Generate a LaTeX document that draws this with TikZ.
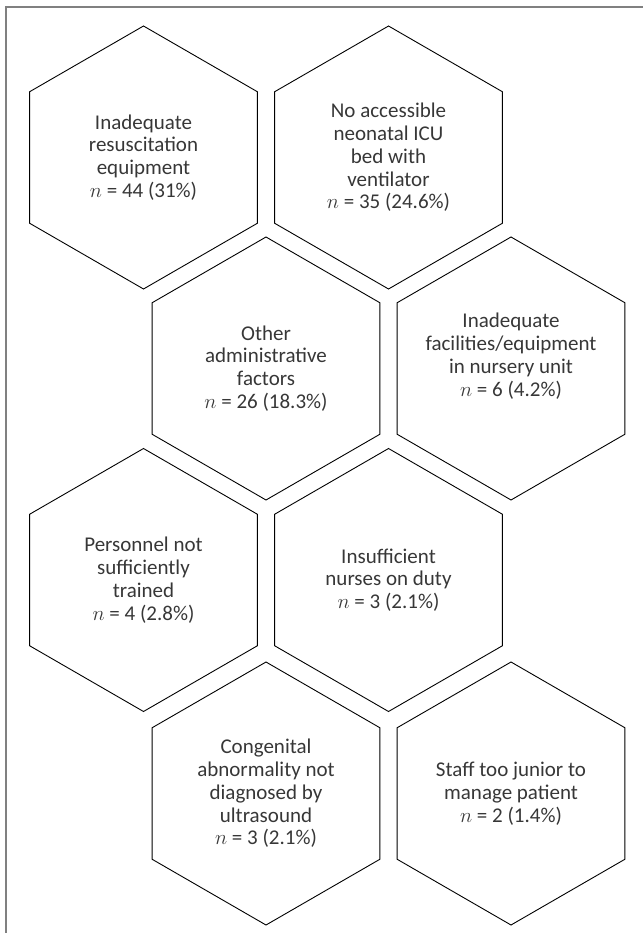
\documentclass[tikz,border=0pt]{standalone}
\usepackage{fontspec}
\setmainfont{Carlito}
\usepackage{tikz}
\usetikzlibrary{positioning,chains,shapes.geometric}
\definecolor{mytext}{RGB}{55,55,55}
\definecolor{myframe}{RGB}{128,128,128}

\begin{document}
\begin{tikzpicture}[x=1pt,y=-1pt,
  hexnode/.style={draw,regular polygon,regular polygon sides=6,
    shape border rotate=30,minimum size=263pt,inner sep=0pt,outer sep=0pt,
    line width=0.9pt,align=center,text=mytext,
    font=\fontsize{21}{22.8}\selectfont},
  node distance=17.2pt
]
\useasboundingbox (0,0) rectangle (643,933);

% the frame (left and top only)
\draw[myframe,line width=2pt] (5.5,933) -- (5.5,7.5) -- (643,7.5);

% first row
\begin{scope}[start chain=going right]
  \node[hexnode,on chain] (resus) at (143.5,157.5) {Inadequate\\resuscitation\\equipment\\$n$ = 44 (31\%)};
  \node[hexnode,on chain] (nicu) {No accessible\\neonatal ICU\\bed with\\ventilator\\$n$ = 35 (24.6\%)};
\end{scope}

% second row
\begin{scope}[start chain=going right]
  \node[hexnode,on chain] (admin) at (266,368.5) {Other\\administrative\\factors\\$n$ = 26 (18.3\%)};
  % wide text, sits a bit high in this one
  \node[hexnode,on chain] (nursery) {\raisebox{11pt}[\height][\depth]{\makebox[100pt]{\begin{tabular}{@{}c@{}}Inadequate\\facilities/equipment\\in nursery unit\\$n$ = 6 (4.2\%)\end{tabular}}}};
\end{scope}

% third row
\begin{scope}[start chain=going right]
  \node[hexnode,on chain] (trained) at (143.5,580) {Personnel not\\sufficiently\\trained\\$n$ = 4 (2.8\%)};
  \node[hexnode,on chain] (nurses) {Insufficient\\nurses on duty\\$n$ = 3 (2.1\%)};
\end{scope}

% fourth row
\begin{scope}[start chain=going right]
  \node[hexnode,on chain] (congen) at (266,793.5) {Congenital\\abnormality not\\diagnosed by\\ultrasound\\$n$ = 3 (2.1\%)};
  \node[hexnode,on chain] (junior) {Staff too junior to\\manage patient\\$n$ = 2 (1.4\%)};
\end{scope}
\end{tikzpicture}
\end{document}
